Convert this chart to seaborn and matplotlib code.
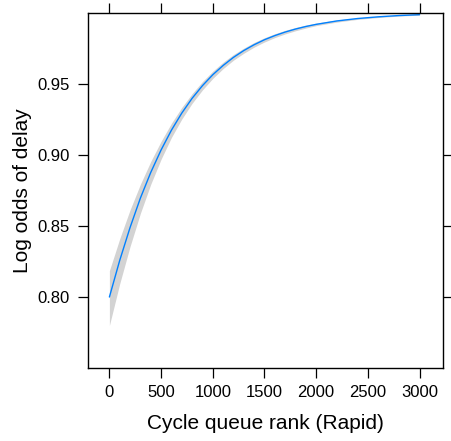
import matplotlib
matplotlib.use("Agg")
import matplotlib.pyplot as plt
import seaborn as sns
import pandas as pd

# Data (fitted curve with confidence band)
rank = [0, 100, 200, 300, 400, 500, 600, 700, 800, 900, 1000, 1100, 1200, 1300,
        1400, 1500, 1600, 1700, 1800, 1900, 2000, 2200, 2400, 2600, 2800, 3000]
fit = [0.8000, 0.8258, 0.8489, 0.8696, 0.8876, 0.9034, 0.9173, 0.9293, 0.9397,
       0.9486, 0.9563, 0.9628, 0.9685, 0.9733, 0.9774, 0.9809, 0.9838, 0.9863,
       0.9884, 0.9902, 0.9917, 0.9941, 0.9958, 0.9970, 0.9979, 0.9985]
lower = [0.7800, 0.8094, 0.8356, 0.8589, 0.8793, 0.8969, 0.9122, 0.9251, 0.9362,
         0.9456, 0.9537, 0.9606, 0.9665, 0.9714, 0.9757, 0.9793, 0.9824, 0.9850,
         0.9872, 0.9891, 0.9908, 0.9933, 0.9952, 0.9965, 0.9975, 0.9982]
upper = [0.8185, 0.8410, 0.8613, 0.8793, 0.8953, 0.9095, 0.9222, 0.9333, 0.9430,
         0.9515, 0.9588, 0.9651, 0.9705, 0.9750, 0.9790, 0.9823, 0.9851, 0.9875,
         0.9895, 0.9912, 0.9926, 0.9948, 0.9963, 0.9974, 0.9982, 0.9987]
x_ticks = [0, 500, 1000, 1500, 2000, 2500, 3000]
y_ticks = [0.80, 0.85, 0.90, 0.95]
y_tick_labels = ["0.80", "0.85", "0.90", "0.95"]
x_label = "Cycle queue rank (Rapid)"
y_label = "Log odds of delay"

df = pd.DataFrame({"rank": rank, "fit": fit, "lower": lower, "upper": upper})

sns.set_style("white")
plt.rcParams["font.family"] = ["Liberation Sans", "DejaVu Sans"]
plt.rcParams["text.color"] = "black"
plt.rcParams["axes.labelcolor"] = "black"
plt.rcParams["xtick.color"] = "black"
plt.rcParams["ytick.color"] = "black"

fig = plt.figure(figsize=(4.52, 4.41), dpi=100)
ax = fig.add_axes([0.194, 0.1662, 0.785, 0.805])

ax.fill_between(df["rank"], df["lower"], df["upper"], color="#d3d3d3", lw=0, zorder=1)
sns.lineplot(data=df, x="rank", y="fit", ax=ax, color="#0080ff", lw=1.0, zorder=2)

ax.set_xlim(-210, 3222)
ax.set_ylim(0.7503, 0.9999)
ax.set_xticks(x_ticks)
ax.set_yticks(y_ticks)
ax.set_yticklabels(y_tick_labels)

for s in ax.spines.values():
    s.set_visible(True)
    s.set_color("black")
    s.set_linewidth(1.0)

ax.tick_params(axis="both", which="major", direction="out", length=7.2, width=0.9,
               color="black", labelcolor="black", labelsize=12, pad=5.5,
               top=True, right=True, bottom=True, left=True,
               labeltop=False, labelright=False)

ax.set_xlabel(x_label, fontsize=15, labelpad=10)
ax.set_ylabel(y_label, fontsize=15, labelpad=4)

fig.savefig("out.png", dpi=100)
